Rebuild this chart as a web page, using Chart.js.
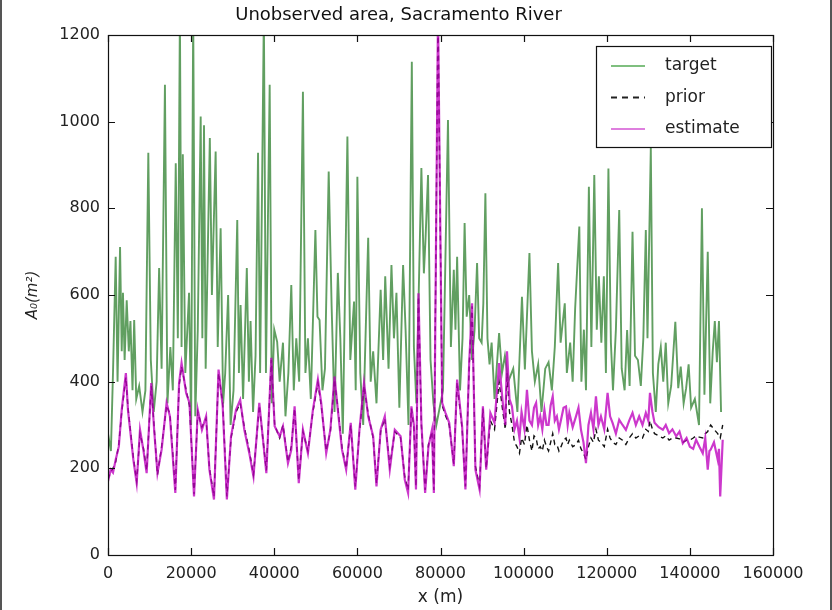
<!DOCTYPE html>
<html>
<head>
<meta charset="utf-8">
<script src="https://cdn.jsdelivr.net/npm/chart.js@4.4.1/dist/chart.umd.min.js"></script>
<style>
  html, body { margin: 0; padding: 0; background: #fff; }
  #wrap { width: 832px; height: 610px; }
</style>
</head>
<body>
<div id="wrap"><canvas id="chart" width="832" height="610"></canvas></div>
<script>
// target A0 (x in m, y in m^2)
const targetX = [
  0, 700, 1200, 1850, 2300, 2900, 3300, 3600, 4000, 4500, 5000, 5400, 5900, 6300, 6800, 7500, 8300, 9000, 9700, 10300,
  11000, 11700, 12300, 12900, 13700, 14300, 15000, 15600, 16300, 16800, 17300, 17700, 18000, 18600, 19500, 20000, 20500, 21000, 21600, 22300,
  22700, 23100, 23500, 24500, 25000, 25900, 26400, 27100, 27700, 28200, 28900, 29500, 30200, 31100, 31500, 31900, 32500, 33400, 33900, 34300,
  34900, 35500, 36100, 36600, 37500, 38000, 38900, 39400, 40000, 40700, 41300, 42100, 42700, 43400, 44100, 44700, 45300, 46000, 46900, 47500,
  48100, 48800, 49900, 50400, 50900, 51600, 52200, 53100, 53800, 54500, 55300, 55900, 56500, 57600, 58300, 59200, 59600, 60000, 60700, 61400,
  62600, 63200, 63800, 64600, 65600, 66200, 66700, 67500, 68200, 68800, 69400, 70100, 71000, 71600, 72300, 73100, 73600, 74200, 75400, 76000,
  76400, 77000, 77600, 78300, 79000, 80600, 81800, 82500, 83200, 83600, 84000, 84700, 85300, 85800, 86300, 86900, 87600, 88200, 88800, 89300,
  89900, 90300, 90800, 91300, 91800, 92300, 93000, 94100, 94800, 95500, 96300, 97500, 98500, 99600, 100300, 101400, 102000, 102700, 103500, 104300,
  105200, 106000, 106800, 107500, 108300, 108900, 109900, 110400, 111200, 111800, 112400, 113400, 113900, 114500, 115000, 115700, 116300, 117000, 117600, 118100,
  118700, 119300, 119800, 120400, 121000, 121500, 122200, 123000, 123600, 124300, 124900, 125500, 126200, 126800, 127500, 128200, 128800, 129400, 129800, 130600,
  131100, 131800, 132400, 133000, 133600, 134200, 134800, 135500, 136500, 137200, 137800, 138500, 139100, 139700, 140300, 141200, 142200, 142900, 143500, 144300,
  144900, 145500, 146000, 146500, 147000, 147500
];
const targetY = [
  280, 240, 420, 688, 400, 711, 470, 605, 450, 588, 470, 540, 380, 542, 360, 390, 330, 380, 928, 450,
  330, 400, 662, 430, 1085, 350, 480, 380, 904, 500, 1250, 480, 925, 420, 605, 300, 1250, 320, 520, 1012,
  500, 992, 430, 962, 600, 931, 480, 754, 350, 420, 600, 300, 380, 773, 420, 577, 360, 662, 400, 540,
  330, 460, 928, 420, 1250, 420, 1085, 350, 520, 492, 400, 490, 320, 420, 623, 380, 500, 400, 1069, 420,
  500, 360, 750, 550, 542, 380, 430, 885, 575, 330, 651, 500, 280, 966, 450, 585, 380, 873, 420, 300,
  732, 400, 470, 350, 612, 450, 643, 430, 669, 500, 605, 340, 669, 520, 300, 1138, 480, 350, 893, 650,
  730, 877, 450, 350, 300, 380, 1004, 480, 658, 520, 688, 380, 500, 766, 550, 600, 450, 520, 674, 500,
  490, 580, 835, 500, 440, 490, 360, 512, 420, 460, 400, 430, 330, 596, 428, 697, 470, 400, 440, 330,
  430, 445, 380, 480, 674, 490, 581, 420, 490, 400, 570, 758, 400, 520, 380, 850, 480, 877, 520, 643,
  490, 643, 420, 892, 490, 380, 520, 796, 430, 380, 519, 390, 746, 460, 450, 390, 500, 750, 500, 939,
  420, 330, 440, 480, 400, 490, 350, 390, 538, 385, 435, 350, 385, 440, 340, 360, 300, 800, 370, 700,
  350, 470, 540, 445, 540, 330
];

// estimate and prior share the same sample positions
const estimateX = [
  0, 650, 1200, 1850, 2600, 3300, 4300, 4800, 6100, 6900, 7700, 8500, 9300, 10400, 11100, 11900, 12900, 14100, 14900, 16200,
  17100, 17700, 18800, 19600, 20700, 21600, 22600, 23600, 24400, 25500, 26600, 27600, 28600, 29600, 30800, 31800, 32800, 34000, 35000, 36400,
  38100, 39300, 40100, 41300, 42100, 43300, 44100, 44900, 45900, 46900, 48100, 49300, 50500, 51300, 52500, 53500, 54500, 55300, 56300, 57300,
  58400, 59500, 60500, 61600, 62600, 63800, 64600, 65600, 66600, 67800, 69000, 70400, 71400, 72200, 73000, 73600, 74100, 74700, 75400, 76300,
  77100, 77950, 78400, 79400, 80400, 81200, 82100, 83200, 84000, 85200, 86000, 86900, 87600, 88400, 89400, 90200, 91000, 92000, 93000, 94100,
  95000, 95600, 96000, 96600, 97200, 97800, 98400, 99000, 99500, 100200,
  100800, 101400, 102000, 102500, 103000, 103500, 104000, 104500, 105000, 105500,
  106000, 106500, 107000, 107500, 108000, 108500, 109000, 109600, 110200, 110600,
  111000, 111800, 112600, 113200, 113800, 114400, 115000, 115600, 116200, 116800,
  117400, 118000, 118600, 119400, 120200, 120800, 121400, 122200, 123000, 123800,
  124600, 125400, 126200, 127000, 127800, 128600, 129400, 130000, 130400, 131000,
  131500, 132500, 133500, 134200, 135000, 135800, 136700, 137500, 138300, 139200,
  140000, 140800, 141500, 142300, 143100, 143700, 144300, 144700, 145000, 145800,
  146700, 147000, 147300, 147900
];
const estimateY = [
  170, 197, 190, 220, 250, 335, 420, 335, 220, 166, 289, 243, 189, 397, 289, 189, 243, 351, 320, 143,
  397, 443, 374, 351, 135, 335, 289, 320, 197, 128, 428, 343, 128, 274, 335, 358, 289, 235, 181, 351,
  189, 455, 297, 274, 297, 212, 243, 343, 166, 289, 235, 335, 405, 351, 235, 289, 412, 335, 243, 197,
  305, 151, 289, 397, 320, 274, 158, 289, 320, 197, 289, 274, 174, 143, 343, 300, 151, 604, 305, 143,
  250, 289, 143, 1250, 351, 328, 305, 205, 405, 297, 151, 443, 581, 197, 151, 343, 197, 328, 305, 443,
  350, 300, 470, 360, 343, 290, 310, 270, 330, 290,
  381, 310, 300, 340, 351, 300, 320, 290, 335, 300,
  300, 345, 366, 310, 320, 290, 312, 340, 343, 300,
  328, 295, 320, 340, 289, 260, 212, 300, 328, 290,
  366, 300, 320, 290, 374, 320, 305, 280, 312, 300,
  289, 310, 328, 300, 320, 300, 328, 310, 374, 330,
  305, 295, 289, 300, 281, 290, 274, 285, 258, 270,
  250, 245, 266, 250, 235, 270, 197, 240, 243, 260,
  220, 245, 135, 266
];
const priorY = [
  175, 192, 200, 215, 255, 330, 410, 340, 225, 170, 280, 248, 195, 390, 295, 185, 250, 345, 325, 150,
  390, 435, 380, 345, 140, 330, 295, 315, 200, 135, 420, 350, 135, 270, 330, 350, 295, 240, 185, 345,
  195, 450, 300, 270, 300, 215, 250, 338, 172, 285, 240, 330, 398, 345, 240, 285, 405, 340, 248, 200,
  300, 158, 285, 390, 325, 270, 165, 285, 315, 205, 285, 270, 180, 150, 338, 295, 158, 596, 300, 150,
  255, 285, 150, 1250, 345, 322, 300, 210, 398, 292, 158, 436, 574, 205, 158, 338, 200, 310, 290, 400,
  330, 290, 420, 330, 300, 260, 250, 235, 270, 255,
  300, 265, 240, 275, 270, 245, 250, 240, 265, 250,
  240, 260, 280, 255, 255, 240, 250, 265, 270, 255,
  265, 250, 255, 265, 245, 235, 220, 250, 270, 260,
  290, 265, 260, 250, 290, 270, 260, 255, 270, 265,
  255, 270, 280, 270, 275, 270, 290, 285, 310, 290,
  280, 275, 270, 275, 265, 270, 270, 268, 260, 265,
  265, 270, 275, 272, 270, 280, 285, 295, 300, 290,
  280, 275, 270, 300
];

const xMax = 160000;
const yMax = 1200;
const xStep = 20000;
const yStep = 200;
const seriesNames = ["target", "prior", "estimate"];

const FONT = "'DejaVu Sans', sans-serif";
const greenLine = "rgba(0, 100, 0, 0.62)";
const magentaLine = "rgba(190, 0, 190, 0.78)";

function toPoints(xs, ys) {
  return xs.map((x, i) => ({ x: x, y: ys[i] }));
}

// box round the plot, inward ticks on all sides, legend and the image edge lines
const framePlugin = {
  id: "frame",
  afterDraw(chart) {
    const ctx = chart.ctx;
    const a = chart.chartArea;
    const xs = chart.scales.x;
    const ys = chart.scales.y;
    ctx.save();
    ctx.strokeStyle = "#111";
    ctx.lineWidth = 1.2;
    ctx.strokeRect(a.left + 0.5, a.top + 0.5, a.right - a.left, a.bottom - a.top);

    const tl = 7;
    ctx.beginPath();
    for (let v = 0; v <= xMax; v += xStep) {
      const px = Math.round(xs.getPixelForValue(v)) + 0.5;
      ctx.moveTo(px, a.bottom);
      ctx.lineTo(px, a.bottom - tl);
      ctx.moveTo(px, a.top);
      ctx.lineTo(px, a.top + tl);
    }
    for (let v = 0; v <= yMax; v += yStep) {
      const py = Math.round(ys.getPixelForValue(v)) + 0.5;
      ctx.moveTo(a.left, py);
      ctx.lineTo(a.left + tl, py);
      ctx.moveTo(a.right, py);
      ctx.lineTo(a.right - tl, py);
    }
    ctx.stroke();

    // legend
    const lx = 596, ly = 46, lw = 175, lh = 101;
    ctx.fillStyle = "#fff";
    ctx.fillRect(lx, ly, lw, lh);
    ctx.strokeStyle = "#111";
    ctx.lineWidth = 1.2;
    ctx.strokeRect(lx + 0.5, ly + 0.5, lw, lh);
    const styles = [
      { color: "rgba(0, 128, 0, 0.5)", dash: [] },
      { color: "#222", dash: [6, 5] },
      { color: "rgba(190, 0, 190, 0.5)", dash: [] }
    ];
    ctx.font = "17px " + FONT;
    ctx.textBaseline = "middle";
    ctx.textAlign = "left";
    seriesNames.forEach((name, i) => {
      const yy = ly + 20 + i * 31.5;
      ctx.beginPath();
      ctx.setLineDash(styles[i].dash);
      ctx.strokeStyle = styles[i].color;
      ctx.lineWidth = 2;
      ctx.moveTo(611, yy);
      ctx.lineTo(645, yy);
      ctx.stroke();
      ctx.setLineDash([]);
      ctx.fillStyle = "#222";
      ctx.fillText(name, 665, yy);
    });

    ctx.fillStyle = "#555";
    ctx.fillRect(0, 0, 2, chart.height);
    ctx.fillRect(chart.width - 2, 0, 2, chart.height);
    ctx.restore();
  }
};

const chart = new Chart(document.getElementById("chart"), {
  type: "line",
  data: {
    datasets: [
      {
        label: seriesNames[0],
        data: toPoints(targetX, targetY),
        borderColor: greenLine,
        borderWidth: 1.9,
        order: 3
      },
      {
        label: seriesNames[1],
        data: toPoints(estimateX, priorY),
        borderColor: "#111",
        borderWidth: 1.4,
        borderDash: [5, 4],
        order: 2
      },
      {
        label: seriesNames[2],
        data: toPoints(estimateX, estimateY),
        borderColor: magentaLine,
        borderWidth: 2.2,
        order: 1
      }
    ]
  },
  options: {
    responsive: false,
    animation: false,
    devicePixelRatio: 1,
    layout: { padding: { left: 24, right: 59, top: 0, bottom: 0 } },
    elements: {
      point: { radius: 0 },
      line: { tension: 0 }
    },
    plugins: {
      legend: { display: false },
      tooltip: { enabled: false },
      title: {
        display: true,
        text: "Unobserved area, Sacramento River",
        color: "#111",
        font: { family: FONT, size: 18, weight: "normal" },
        padding: { top: 5, bottom: 8.4 }
      }
    },
    scales: {
      x: {
        type: "linear",
        min: 0,
        max: xMax,
        grid: { display: false, drawTicks: false },
        border: { display: false },
        ticks: {
          stepSize: xStep,
          padding: 9,
          maxRotation: 0,
          color: "#222",
          font: { family: FONT, size: 16 },
          callback: (v) => String(v)
        },
        title: {
          display: true,
          text: "x (m)",
          color: "#222",
          font: { family: FONT, size: 17 },
          padding: { top: 0, bottom: 2 }
        },
        afterFit: (s) => { s.height = 55; }
      },
      y: {
        min: 0,
        max: yMax,
        grid: { display: false, drawTicks: false },
        border: { display: false },
        ticks: {
          stepSize: yStep,
          padding: 8,
          color: "#222",
          font: { family: FONT, size: 16 },
          callback: (v) => String(v)
        },
        title: {
          display: true,
          text: "A₀(m²)",
          color: "#222",
          font: { family: FONT, size: 15, style: "italic" },
          padding: 0
        },
        afterFit: (s) => { s.width = 84; }
      }
    }
  },
  plugins: [framePlugin]
});
</script>
</body>
</html>
